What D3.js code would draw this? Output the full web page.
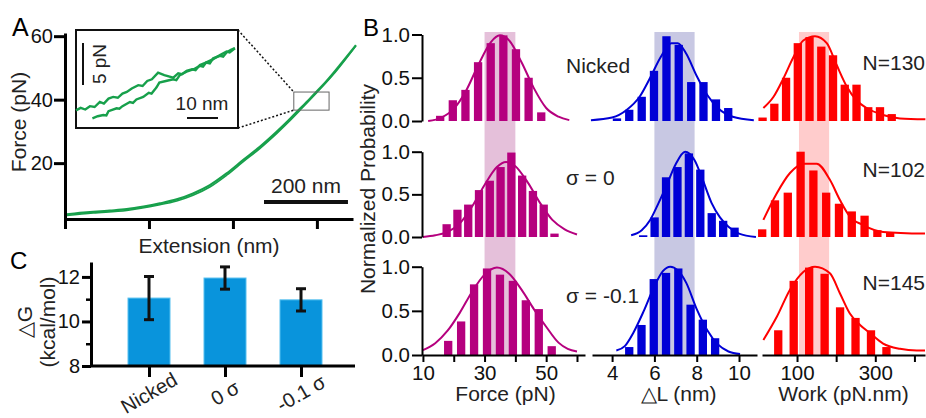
<!DOCTYPE html>
<html><head><meta charset="utf-8">
<script src="https://cdn.jsdelivr.net/npm/d3@7"></script>
<style>body{margin:0;background:#fff}</style>
</head><body>
<svg id="c" width="926" height="418"></svg>
<script>
// ---------------- DATA ----------------
// Panel A: force-extension trace (extension nm, force pN)
const aExtTicks = [0, 200, 400, 600];
const aForceTicks = [20, 40, 60];
const aStretch = [[4,3.9],[35,4.3],[67,4.66],[107,5.05],[147,5.5],[187,6.3],[226,7.3],[266,8.57],[305,10.46],[345,13.07],[385,16.76],[424,20.94],[464,25.13],[504,29.86],[532,33.4],[560,37.2],[580,39.8],[599,42.5],[620,45.4],[639,48.3],[655,50.9],[671,53.5],[683,55.5],[693,57.2]];
const aRelax = [[4,3.5],[67,4.3],[147,5.1],[226,6.9],[266,8.1],[305,9.9],[345,12.5],[385,16.2],[424,20.4],[464,24.6],[504,29.3],[532,32.9],[560,36.7],[599,42.1],[639,47.9],[693,57.0]];
const aZoomExt = [545, 629];
const aZoomForce = [36.7, 42.4];
const aScaleBarNm = 200;
// Inset (local nm, local pN)
const insetUnfold = [[0,2.1],[1.5,2.4],[3,2.2],[4.5,2.6],[6,2.5],[7.7,3.1],[9,2.9],[10.5,3.5],[12,3.7],[13.5,3.6],[15,4.1],[16.4,4.3],[18,4.7],[20.1,5.1],[21.5,5.0],[23,5.6],[24.5,5.8],[26.5,6.6],[28.5,6.3],[31.4,6.0],[33,6.5],[34.2,6.4],[35.7,6.8],[37.5,7.0],[38.6,6.9],[40,7.5],[42,7.8],[43.2,7.7],[44.3,8.3],[46.5,8.6],[47.5,8.5],[48.6,9.0],[50,9.3],[51.3,9.5]];
const insetRefold = [[5.3,1.15],[7,1.4],[8.8,1.55],[9.8,1.5],[10.5,2.0],[13.1,2.35],[14,2.3],[15,2.6],[17.4,3.1],[18.4,3.0],[19.5,3.4],[21.7,3.7],[23.5,4.2],[24.4,4.1],[25.5,4.6],[26,4.85],[26.9,5.4],[29,5.6],[31.4,5.8],[32.4,5.7],[33.5,6.3],[35.7,6.7],[38,7.0],[40,7.4],[41,7.3],[42,7.8],[44.3,8.2],[46.5,8.7],[48.6,9.1],[49.6,9.0],[51.3,9.5]];
const insetBarNm = 10, insetBarPn = 5;

// Panel C: free energy
const cCategories = ["Nicked", "0 σ", "-0.1 σ"];
const cValues = [11.05, 11.95, 10.97];
const cErrors = [0.97, 0.50, 0.50];
const cTicks = [8, 10, 12];
const cMinorTicks = [9, 11];

// Panel B: histograms (rows: Nicked, σ=0, σ=-0.1)
const bRowLabels = ["Nicked", "σ = 0", "σ = -0.1"];
const bCounts = ["N=130", "N=102", "N=145"];
const bYTicks = [0, 0.5, 1.0];
const forceCenters = [
  [15.6,19.7,23.8,27.9,32.0,36.1,40.2,44.3,48.4],
  [17.7,21.2,24.7,28.2,31.7,35.2,38.7,42.2,45.7,49.2,52.7],
  [18.2,22.4,26.6,30.8,35.0,39.2,43.4,47.6,51.8]];
const forceProb = [
  [0.06,0.24,0.36,0.68,0.90,0.99,0.83,0.50,0.10],
  [0.15,0.32,0.38,0.55,0.66,0.82,0.99,0.72,0.54,0.38,0.04],
  [0.16,0.38,0.80,0.98,0.91,0.84,0.62,0.52,0.10]];
const forceFits = [
  [[11.7,0],[16,0.04],[20,0.14],[24,0.35],[28,0.65],[32,0.91],[35,0.99],[38,0.93],[42,0.68],[46,0.38],[50,0.15],[54,0.05],[57.5,0.01]],
  [[10,0.0],[14,0.02],[18,0.06],[22,0.16],[26,0.36],[30,0.61],[34,0.82],[37,0.88],[40,0.83],[44,0.64],[48,0.4],[52,0.2],[56,0.09],[60,0.03]],
  [[10,0.056],[14,0.134],[18,0.275],[22,0.48],[26,0.72],[30,0.91],[34,0.99],[38,0.92],[42,0.74],[46,0.52],[50,0.32],[54,0.14],[57,0.07],[60,0.04]]];
const dlCenters = [
  [4.23,4.81,5.40,5.98,6.57,7.15,7.74,8.32,8.91,9.49],
  [5.47,6.01,6.55,7.09,7.63,8.17,8.71,9.25,9.79],
  [4.81,5.39,5.97,6.55,7.13,7.71,8.29,8.87]];
const dlProb = [
  [0.03,0.13,0.28,0.58,0.98,0.88,0.45,0.45,0.25,0.15],
  [0.02,0.23,0.70,0.82,0.98,0.79,0.28,0.19,0.11],
  [0.09,0.34,0.86,0.93,0.98,0.57,0.40,0.19]];
const dlFits = [
  [[3.0,0.01],[4.0,0.04],[4.7,0.13],[5.3,0.28],[5.8,0.5],[6.3,0.74],[6.8,0.9],[7.1,0.9],[7.5,0.78],[8.0,0.52],[8.5,0.3],[9.0,0.15],[9.7,0.05],[10.7,0.01]],
  [[4.9,0.02],[5.4,0.08],[5.8,0.2],[6.2,0.4],[6.6,0.62],[7.0,0.85],[7.45,1.0],[7.9,0.9],[8.3,0.66],[8.7,0.4],[9.1,0.23],[9.5,0.12],[10.0,0.04],[10.8,0.0]],
  [[4.2,0.05],[4.6,0.1],[5.0,0.25],[5.5,0.5],[6.0,0.78],[6.4,0.95],[6.75,1.0],[7.1,0.96],[7.5,0.82],[8.0,0.52],[8.5,0.28],[9.0,0.12],[9.5,0.04],[10.05,0.01]]];
const workCenters = [
  [12,42,72,102,132,162,192,222,252,282,312,342],
  [11,43.7,76.4,109.1,141.8,174.5,207.2,239.9,272.6,305.3,338],
  [52,91.5,131,170.5,210,249.5,289,328.5]];
const workProb = [
  [0.04,0.20,0.50,0.90,0.97,0.86,0.76,0.42,0.42,0.16,0.16,0.08],
  [0.09,0.43,0.52,1.0,0.78,0.52,0.39,0.30,0.25,0.08,0.05],
  [0.28,0.84,0.99,0.92,0.54,0.42,0.28,0.09]];
const workFits = [
  [[14,0.15],[40,0.28],[65,0.49],[91,0.74],[116,0.93],[146,0.98],[176,0.9],[201,0.65],[227,0.4],[252,0.24],[278,0.15],[320,0.07],[363,0.03],[428,0.02]],
  [[14,0.2],[48,0.51],[82,0.75],[116,0.86],[150,0.86],[184,0.67],[210,0.43],[235,0.24],[269,0.14],[320,0.06],[427,0.04]],
  [[14,0.17],[48,0.43],[82,0.74],[116,0.94],[146,1.0],[184,0.925],[209.5,0.7],[235,0.47],[261,0.34],[286,0.25],[320,0.13],[363,0.07],[406,0.05],[427,0.05]]];
const forceTicks = [10,20,30,40,50,60], forceTickLabels = [10,30,50];
const dlTicks = [4,6,8,10], dlTickLabels = [4,6,8,10];
const workTicks = [100,200,300,400], workTickLabels = [100,300];
const bandRanges = [[30,40],[6,7.9],[105,182]];
const bXTitles = ["Force (pN)", "\u25B3L (nm)", "Work (pN.nm)"];

// ---------------- DRAW ----------------
const FONT = '"Liberation Sans", Arial, Helvetica, sans-serif';
const svg = d3.select("#c").attr("font-family", FONT);
const TF = 21; // title font size

function styleAxis(g, sw, fs) {
  g.attr("font-family", FONT).attr("font-size", fs);
  g.selectAll("path.domain").attr("stroke", "#000").attr("stroke-width", sw);
  g.selectAll(".tick line").attr("stroke", "#000").attr("stroke-width", sw);
  g.selectAll(".tick text").attr("fill", "#111");
}

// ===== Panel A =====
const green = "#17a04b";
const xA = d3.scaleLinear().domain([0, 686]).range([65, 353]);
const yA = d3.scaleLinear().domain([2.4, 61]).range([219, 33]);
const lineA = d3.line().x(d => xA(d[0])).y(d => yA(d[1])).curve(d3.curveCatmullRom);
svg.append("path").attr("d", lineA(aRelax)).attr("fill", "none").attr("stroke", green).attr("stroke-width", 1.6);
svg.append("path").attr("d", lineA(aStretch)).attr("fill", "none").attr("stroke", green).attr("stroke-width", 2.2);

const gAy = svg.append("g").attr("transform", "translate(65,0)")
  .call(d3.axisLeft(yA).tickValues(aForceTicks).tickSize(11).tickSizeOuter(0).tickPadding(1));
styleAxis(gAy, 3, 20);
const gAx = svg.append("g").attr("transform", "translate(0,219)")
  .call(d3.axisBottom(xA).tickValues(aExtTicks).tickSize(10).tickSizeOuter(0).tickFormat(""));
styleAxis(gAx, 3, 20);

svg.append("text").attr("x", 12).attr("y", 36).attr("font-size", 25).text("A");
svg.append("text").attr("transform", "translate(26,122) rotate(-90)").attr("text-anchor", "middle")
  .attr("font-size", TF).attr("fill", "#222").text("Force (pN)");
svg.append("text").attr("x", 209).attr("y", 253).attr("text-anchor", "middle")
  .attr("font-size", TF).attr("fill", "#222").text("Extension (nm)");

// scale bar 200 nm
const sbLen = xA(aScaleBarNm) - xA(0);
svg.append("line").attr("x1", 264).attr("x2", 264 + sbLen).attr("y1", 202).attr("y2", 202)
  .attr("stroke", "#111").attr("stroke-width", 4);
svg.append("text").attr("x", 264 + sbLen / 2).attr("y", 193).attr("text-anchor", "middle")
  .attr("font-size", TF).attr("fill", "#222").text(aScaleBarNm + " nm");

// zoom box
const zx0 = xA(aZoomExt[0]), zx1 = xA(aZoomExt[1]), zy0 = yA(aZoomForce[1]), zy1 = yA(aZoomForce[0]);
svg.append("rect").attr("x", zx0).attr("y", zy0).attr("width", zx1 - zx0).attr("height", zy1 - zy0)
  .attr("fill", "none").attr("stroke", "#666").attr("stroke-width", 1);
const inset = {x0: 76, x1: 238, y0: 30, y1: 128};
svg.append("line").attr("x1", inset.x1).attr("y1", inset.y0).attr("x2", zx0).attr("y2", zy0)
  .attr("stroke", "#111").attr("stroke-width", 1.5).attr("stroke-dasharray", "2,2");
svg.append("line").attr("x1", inset.x1).attr("y1", inset.y1).attr("x2", zx0).attr("y2", zy1)
  .attr("stroke", "#111").attr("stroke-width", 1.5).attr("stroke-dasharray", "2,2");

// inset
svg.append("rect").attr("x", inset.x0).attr("y", inset.y0).attr("width", inset.x1 - inset.x0)
  .attr("height", inset.y1 - inset.y0).attr("fill", "#fff").attr("stroke", "#111").attr("stroke-width", 2);
const xI = d3.scaleLinear().domain([0, 52.3]).range([inset.x0, inset.x1]);
const yI = d3.scaleLinear().domain([0, 11.67]).range([inset.y1, inset.y0]);
const lineI = d3.line().x(d => xI(d[0])).y(d => yI(d[1]));
svg.append("path").attr("d", lineI(insetRefold)).attr("fill", "none").attr("stroke", green).attr("stroke-width", 2.4);
svg.append("path").attr("d", lineI(insetUnfold)).attr("fill", "none").attr("stroke", green).attr("stroke-width", 2.4);
// inset scale bars
const pnLen = yI(0) - yI(insetBarPn);
svg.append("line").attr("x1", 83).attr("x2", 83).attr("y1", 43).attr("y2", 43 + pnLen)
  .attr("stroke", "#111").attr("stroke-width", 2);
svg.append("text").attr("transform", `translate(106,${43 + pnLen / 2}) rotate(-90)`).attr("text-anchor", "middle")
  .attr("font-size", 19).attr("fill", "#222").text(insetBarPn + " pN");
const nmLen = xI(insetBarNm) - xI(0);
svg.append("line").attr("x1", 187).attr("x2", 187 + nmLen).attr("y1", 118).attr("y2", 118)
  .attr("stroke", "#111").attr("stroke-width", 2);
svg.append("text").attr("x", 202).attr("y", 110).attr("text-anchor", "middle")
  .attr("font-size", 19).attr("fill", "#222").text(insetBarNm + " nm");

// ===== Panel C =====
const xC = d3.scalePoint().domain(cCategories).range([149, 301]);
const yC = d3.scaleLinear().domain([8, 12.67]).range([366, 262]);
const barW = 42;
svg.selectAll("rect.cbar").data(cValues).join("rect").attr("class", "cbar")
  .attr("x", (d, i) => xC(cCategories[i]) - barW / 2).attr("y", d => yC(d))
  .attr("width", barW).attr("height", d => yC(8) - yC(d))
  .attr("fill", "#0994dc").attr("stroke", "#56c0f0").attr("stroke-width", 1);
cValues.forEach((v, i) => {
  const cx = xC(cCategories[i]);
  const g = svg.append("g").attr("stroke", "#111").attr("stroke-width", 3);
  g.append("line").attr("x1", cx).attr("x2", cx).attr("y1", yC(v + cErrors[i])).attr("y2", yC(v - cErrors[i]));
  g.append("line").attr("x1", cx - 5).attr("x2", cx + 5).attr("y1", yC(v + cErrors[i])).attr("y2", yC(v + cErrors[i]));
  g.append("line").attr("x1", cx - 5).attr("x2", cx + 5).attr("y1", yC(v - cErrors[i])).attr("y2", yC(v - cErrors[i]));
});
const gCy = svg.append("g").attr("transform", "translate(91,0)")
  .call(d3.axisLeft(yC).tickValues(cTicks).tickSize(9).tickSizeOuter(0).tickPadding(2).tickFormat(d3.format("d")));
styleAxis(gCy, 3, 20);
const gCym = svg.append("g").attr("transform", "translate(91,0)")
  .call(d3.axisLeft(yC).tickValues(cMinorTicks).tickSize(5).tickSizeOuter(0).tickFormat(""));
styleAxis(gCym, 2.5, 20);
gCym.select("path.domain").remove();
const gCx = svg.append("g").attr("transform", "translate(0,366)")
  .call(d3.axisBottom(xC).tickSize(11).tickSizeOuter(0).tickFormat(""));
styleAxis(gCx, 3, 20);
gCx.select("path.domain").attr("d", "M91,0H355");
cCategories.forEach(c => {
  svg.append("text").attr("transform", `translate(${xC(c)},393) rotate(-30)`).attr("text-anchor", "middle")
    .attr("dy", "0.35em").attr("font-size", 20).attr("fill", "#222").text(c);
});
svg.append("text").attr("x", 10).attr("y", 269).attr("font-size", 24).text("C");
svg.append("text").attr("transform", "translate(32,322) rotate(-90)").attr("text-anchor", "middle")
  .attr("font-size", TF).attr("fill", "#222").text("\u25B3G");
svg.append("text").attr("transform", "translate(55,322) rotate(-90)").attr("text-anchor", "middle")
  .attr("font-size", TF).attr("fill", "#222").text("(kcal/mol)");

// ===== Panel B =====
const rowPix = [[121, 34.5], [237, 151.7], [355, 266.7]];
const colPix = [[422, 585], [592, 757], [762, 925]];
const colDomains = [[9.7, 62.6], [3.05, 10.85], [10.5, 427]];
const colColors = ["#b5007e", "#0000d6", "#ff0000"];
const bandColors = ["#e5c0da", "#c8c8e3", "#ffcccc"];
const centersAll = [forceCenters, dlCenters, workCenters];
const probAll = [forceProb, dlProb, workProb];
const fitsAll = [forceFits, dlFits, workFits];
const ticksAll = [forceTicks, dlTicks, workTicks];
const tickLabelsAll = [forceTickLabels, dlTickLabels, workTickLabels];
const xB = colDomains.map((d, c) => d3.scaleLinear().domain(d).range(colPix[c]));
const yB = rowPix.map(r => d3.scaleLinear().domain([0, 1]).range(r));
const hbw = 8.3;

// shaded bands
bandRanges.forEach((b, c) => {
  svg.append("rect").attr("x", xB[c](b[0])).attr("width", xB[c](b[1]) - xB[c](b[0]))
    .attr("y", 32).attr("height", 355 - 32).attr("fill", bandColors[c]);
});

for (let c = 0; c < 3; c++) {
  for (let r = 0; r < 3; r++) {
    const xs = xB[c], ys = yB[r];
    const cs = centersAll[c][r], ps = probAll[c][r];
    svg.append("g").selectAll("rect").data(ps).join("rect")
      .attr("x", (d, i) => xs(cs[i]) - hbw / 2).attr("width", hbw)
      .attr("y", d => ys(d)).attr("height", d => ys(0) - ys(d))
      .attr("fill", colColors[c]);
    const ln = d3.line().x(d => xs(d[0])).y(d => ys(d[1])).curve(d3.curveMonotoneX);
    svg.append("path").attr("d", ln(fitsAll[c][r])).attr("fill", "none")
      .attr("stroke", colColors[c]).attr("stroke-width", 2);
  }
}
// y axes (first column)
for (let r = 0; r < 3; r++) {
  const g = svg.append("g").attr("transform", `translate(${colPix[0][0]},0)`)
    .call(d3.axisLeft(yB[r]).tickValues(bYTicks).tickSize(10).tickSizeOuter(0).tickPadding(2).tickFormat(d3.format(".1f")));
  styleAxis(g, 2, 20.5);
}
// x axes (bottom row)
for (let c = 0; c < 3; c++) {
  const labs = tickLabelsAll[c];
  const g = svg.append("g").attr("transform", `translate(0,${rowPix[2][0]})`)
    .call(d3.axisBottom(xB[c]).tickValues(ticksAll[c]).tickSize(7).tickSizeOuter(0).tickPadding(3)
      .tickFormat(d => labs.includes(d) ? d : ""));
  styleAxis(g, 2, 20.5);
  svg.append("text").attr("x", (colPix[c][0] + colPix[c][1]) / 2 + (c === 0 ? 2 : (c === 1 ? 4 : 0)))
    .attr("y", 401).attr("text-anchor", "middle").attr("font-size", TF).attr("fill", "#222").text(bXTitles[c]);
}
// labels
const rowLabelBase = [73, 185, 303];
const countBase = [70, 177, 290];
bRowLabels.forEach((t, r) => {
  svg.append("text").attr("x", 566).attr("y", rowLabelBase[r]).attr("font-size", TF).attr("fill", "#222").text(t);
  svg.append("text").attr("x", 925).attr("y", countBase[r]).attr("text-anchor", "end").attr("font-size", TF).attr("fill", "#222").text(bCounts[r]);
});
svg.append("text").attr("x", 363).attr("y", 36).attr("font-size", 24).text("B");
svg.append("text").attr("transform", "translate(375,189) rotate(-90)").attr("text-anchor", "middle")
  .attr("font-size", TF).attr("fill", "#222").text("Normalized Probability");
</script>
</body></html>
